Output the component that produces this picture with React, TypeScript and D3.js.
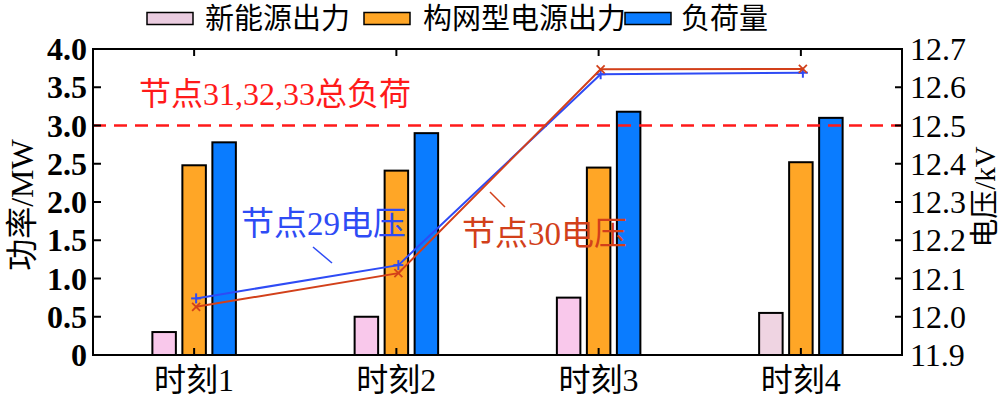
import React from "react";
import * as d3 from "d3";

const categories = ["时刻1", "时刻2", "时刻3", "时刻4"];
const seriesNames = ["新能源出力", "构网型电源出力", "负荷量"];
const renewable = [0.3, 0.5, 0.75, 0.55];
const gridForming = [2.48, 2.41, 2.45, 2.52];
const load = [2.78, 2.9, 3.18, 3.1];
const node29Voltage = [12.048, 12.135, 12.634, 12.638];
const node30Voltage = [12.026, 12.114, 12.647, 12.648];
const loadThreshold = 3.0;
const leftTicks = [0, 0.5, 1.0, 1.5, 2.0, 2.5, 3.0, 3.5, 4.0];
const leftTickLabels = ["0", "0.5", "1.0", "1.5", "2.0", "2.5", "3.0", "3.5", "4.0"];
const rightTicks = [11.9, 12.0, 12.1, 12.2, 12.3, 12.4, 12.5, 12.6, 12.7];
const rightTickLabels = ["11.9", "12.0", "12.1", "12.2", "12.3", "12.4", "12.5", "12.6", "12.7"];
const loadLabel = "节点31,32,33总负荷";
const node29Label = "节点29电压";
const node30Label = "节点30电压";
const yLeftTitle = "功率/MW";
const yRightTitle = "电压/kV";

const W = 1003;
const H = 399;
const M = { left: 93, right: 902, top: 49, bottom: 355 };
const FONT = "'Liberation Serif', 'Times New Roman', 'Noto Sans CJK SC', serif";

const seriesColors = ["#F9C8EB", "#FFA626", "#0A7CFF"];
const renewableColors = ["#F9C8EB", "#F9C8EB", "#F9C8EB", "#EFD4E2"];
const legendColors = ["#EACCE0", "#FFA626", "#0A7CFF"];
const blueLine = "#2E4BF5";
const redLine = "#D2401A";
const dashRed = "#FF1A1A";

export default function App() {
  const x = d3.scaleBand<string>().domain(categories).range([M.left, M.right]).padding(0);
  const sub = d3.scaleBand<string>().domain(seriesNames).range([-45, 45]).padding(0);
  const yL = d3.scaleLinear().domain([0, 4]).range([M.bottom, M.top]);
  const yR = d3.scaleLinear().domain([11.9, 12.7]).range([M.bottom, M.top]);
  const cx = (c: string) => (x(c) as number) + x.bandwidth() / 2;
  const barW = 23.5;
  const seriesValues = [renewable, gridForming, load];

  const line = d3
    .line<number>()
    .x((_, i) => cx(categories[i]) + 2)
    .y((v) => yR(v));

  return (
    <div style={{ position: "absolute", left: 0, top: 0 }}>
      <svg width={W} height={H} style={{ display: "block", background: "#fff" }} fontFamily={FONT}>
        {/* bars */}
        {seriesValues.map((vals, si) =>
          vals.map((v, i) => {
            const c = categories[i];
            const center = cx(c) + (sub(seriesNames[si]) as number) + sub.bandwidth() / 2;
            const fill = si === 0 ? renewableColors[i] : seriesColors[si];
            return (
              <rect
                key={`b${si}-${i}`}
                x={center - barW / 2}
                y={yL(v)}
                width={barW}
                height={yL(0) - yL(v)}
                fill={fill}
                stroke="#000"
                strokeWidth={2}
              />
            );
          })
        )}

        {/* threshold dashed line */}
        <line
          x1={M.left}
          x2={M.right}
          y1={yL(loadThreshold)}
          y2={yL(loadThreshold)}
          stroke={dashRed}
          strokeWidth={2.5}
          strokeDasharray="13,8"
        />

        {/* voltage lines */}
        <path d={line(node29Voltage) || ""} fill="none" stroke={blueLine} strokeWidth={2} />
        {node29Voltage.map((v, i) => {
          const px = cx(categories[i]) + 2;
          const py = yR(v);
          return (
            <g key={`m29-${i}`} stroke={blueLine} strokeWidth={2}>
              <line x1={px - 5} x2={px + 5} y1={py} y2={py} />
              <line x1={px} x2={px} y1={py - 5} y2={py + 5} />
            </g>
          );
        })}
        <path d={line(node30Voltage) || ""} fill="none" stroke={redLine} strokeWidth={2} />
        {node30Voltage.map((v, i) => {
          const px = cx(categories[i]) + 2;
          const py = yR(v);
          return (
            <g key={`m30-${i}`} stroke={redLine} strokeWidth={1.8}>
              <line x1={px - 4} x2={px + 4} y1={py - 4} y2={py + 4} />
              <line x1={px - 4} x2={px + 4} y1={py + 4} y2={py - 4} />
            </g>
          );
        })}

        {/* frame */}
        <rect
          x={M.left}
          y={M.top}
          width={M.right - M.left}
          height={M.bottom - M.top}
          fill="none"
          stroke="#000"
          strokeWidth={2}
        />

        {/* left ticks */}
        {leftTicks.map((t, i) => (
          <g key={`lt${i}`}>
            <line x1={M.left} x2={M.left + 8} y1={yL(t)} y2={yL(t)} stroke="#000" strokeWidth={2} />
            <text
              x={87}
              y={yL(t)}
              dy="0.35em"
              textAnchor="end"
              fontSize={32}
              fontWeight="bold"
              fill="#000"
            >
              {leftTickLabels[i]}
            </text>
          </g>
        ))}

        {/* right ticks */}
        {rightTicks.map((t, i) => (
          <g key={`rt${i}`}>
            <line x1={M.right - 7} x2={M.right} y1={yR(t)} y2={yR(t)} stroke="#000" strokeWidth={2} />
            <text x={910} y={yR(t)} dy="0.35em" textAnchor="start" fontSize={32} fill="#000">
              {rightTickLabels[i]}
            </text>
          </g>
        ))}

        {/* x ticks & labels */}
        {categories.map((c) => (
          <g key={`xt${c}`}>
            <line x1={cx(c)} x2={cx(c)} y1={M.bottom} y2={M.bottom - 7} stroke="#000" strokeWidth={2} />
            <line x1={cx(c)} x2={cx(c)} y1={M.top} y2={M.top + 7} stroke="#000" strokeWidth={2} />
            <text x={cx(c)} y={391} textAnchor="middle" fontSize={32} fill="#000">
              {c}
            </text>
          </g>
        ))}

        {/* axis titles */}
        <text
          transform={`translate(22,205) rotate(-90)`}
          textAnchor="middle"
          dy="0.35em"
          fontSize={32}
          fill="#000"
        >
          {yLeftTitle}
        </text>
        <text
          transform={`translate(985,197) rotate(-90)`}
          textAnchor="middle"
          dy="0.35em"
          fontSize={29}
          fill="#000"
        >
          {yRightTitle}
        </text>

        {/* annotations */}
        <text x={139} y={105} fontSize={32} fill={dashRed}>
          {loadLabel}
        </text>
        <text x={241} y={235} fontSize={33} fill={blueLine}>
          {node29Label}
        </text>
        <line x1={313} y1={247} x2={332} y2={263} stroke={blueLine} strokeWidth={1.5} />
        <text x={462} y={245} fontSize={33} fill={redLine}>
          {node30Label}
        </text>
        <line x1={490} y1={192} x2={505} y2={207} stroke={redLine} strokeWidth={1.5} />

        {/* legend */}
        {(() => {
          const items = [
            { sw: 147, tx: 205 },
            { sw: 364, tx: 423 },
            { sw: 625, tx: 681 },
          ];
          return seriesNames.map((n, i) => (
            <g key={`lg${i}`}>
              <rect x={items[i].sw} y={12.5} width={46} height={12} fill={legendColors[i]} stroke="#000" strokeWidth={1.5} />
              <text x={items[i].tx} y={29} fontSize={29} fill="#000">
                {n}
              </text>
            </g>
          ));
        })()}
      </svg>
    </div>
  );
}
